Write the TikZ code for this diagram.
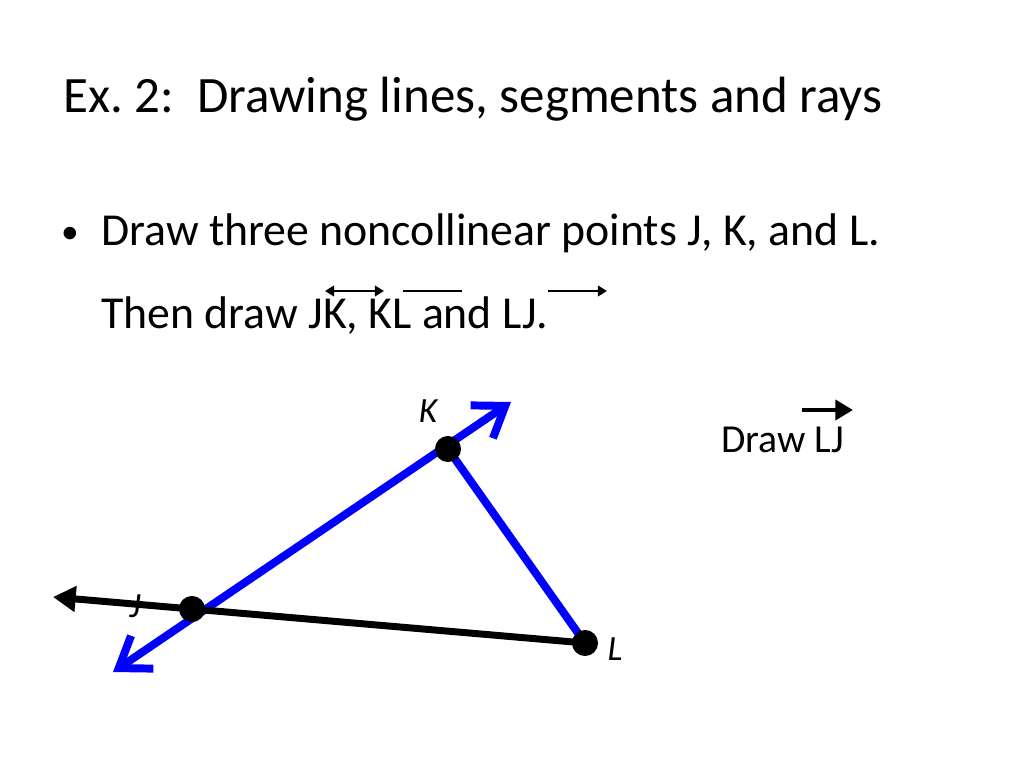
\documentclass[tikz,border=0pt]{standalone}
\usepackage{fontspec}
\setmainfont{Carlito}
\usetikzlibrary{arrows.meta}
\frenchspacing

\begin{document}
\begin{tikzpicture}[x=0.703125bp,y=-0.703125bp,
  dot/.style={circle,fill=black,inner sep=0pt,minimum size=18.3bp},
  ptlabel/.style={font=\fontsize{25}{30}\selectfont\itshape},
  txt/.style={anchor=base west,inner sep=0pt},
  bluearrow/.style={blue,line width=5.6bp},
  overarrow/.style={line width=2.1bp}]

\fill[white] (0,0) rectangle (1024,768);

\node[txt,font=\fontsize{36}{43}\selectfont] (title) at (63,112) {Ex. 2:~ Drawing lines, segments and rays};
\node[anchor=base,inner sep=0pt,font=\fontsize{25}{30}\selectfont] (bullet) at (70,243) {•};
\node[txt,font=\fontsize{32.3}{38}\selectfont] (line1) at (101,245) {Draw three noncollinear points J, K, and L.};
\node[txt,font=\fontsize{32.3}{38}\selectfont] (line2) at (101,328) {Then draw JK, KL and LJ.};

\coordinate (jka) at (325,291);
\coordinate (jkb) at (384,291);
\coordinate (kla) at (403,291);
\coordinate (klb) at (462,291);
\coordinate (lja) at (548,291);
\coordinate (ljb) at (607,291);
\draw [overarrow, {Triangle[length=6.5pt,width=7.5pt]}-{Triangle[length=6.5pt,width=7.5pt]}] (jka) -- (jkb);
\draw [overarrow] (kla) -- (klb);
\draw [overarrow, -{Triangle[length=6.5pt,width=7.5pt]}] (lja) -- (ljb);

\coordinate (J) at (192,609);
\coordinate (K) at (448,449);
\coordinate (L) at (585,643);
\coordinate (blueend) at (113,672);
\coordinate (bluetip) at (511,402);
\coordinate (raytip) at (53,597);

\draw [bluearrow, {Straight Barb[length=20pt,width=28pt]}-{Straight Barb[length=20pt,width=28pt]}] (blueend) -- (bluetip);
\draw [bluearrow] (K) -- (L);
\draw [line width=4.9bp, -{Triangle[length=16pt,width=17.5pt]}] (L) -- (raytip);

\node[dot] (Jdot) at (J) {};
\node[dot] (Kdot) at (K) {};
\node[dot] (Ldot) at (L) {};

\node[ptlabel] (Jlabel) at (135,606) {J};
\node[ptlabel] (Klabel) at (428,411) {K};
\node[ptlabel] (Llabel) at (615,649) {L};

\node[txt,font=\fontsize{28}{34}\selectfont] (drawlj) at (721,452) {Draw LJ};
\coordinate (lja2) at (802,410);
\coordinate (ljb2) at (853,410);
\draw [line width=3.5bp, -{Triangle[length=12.5pt,width=14pt]}] (lja2) -- (ljb2);

\end{tikzpicture}
\end{document}
